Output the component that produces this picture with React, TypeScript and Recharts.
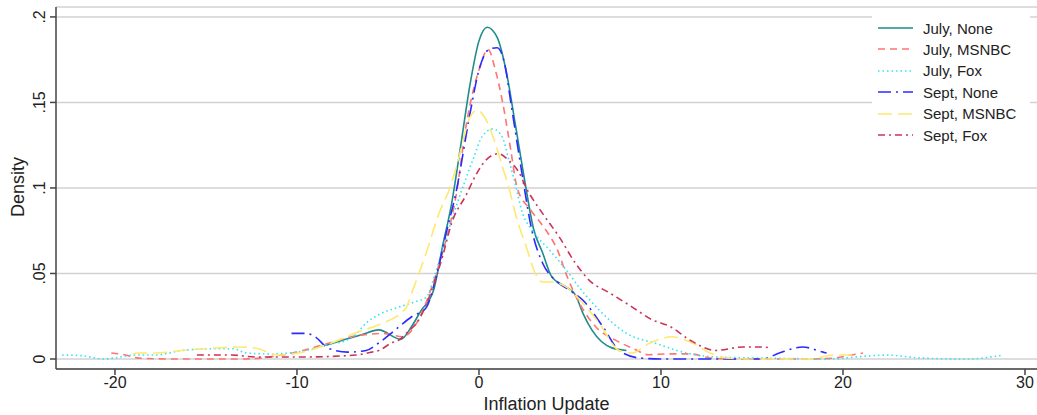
import React from "react";
import { LineChart, Line, XAxis, YAxis, CartesianGrid, Label } from "recharts";

// x ticks / y ticks
const xTicks = [-20, -10, 0, 10, 20, 30];
const yTicks = [0, 0.05, 0.1, 0.15, 0.2];
const yTickLabels = ["0", ".05", ".1", ".15", ".2"];

// kernel density curves
const julyNoneX = [-8.4, -7.5, -6.5, -5.5, -4.3, -3.7, -3.2, -2.5, -2, -1.5, -1, -0.5, 0, 0.45, 1, 1.5, 2, 2.5, 3, 3.5, 4, 4.8, 5.3, 5.7, 6.2, 7.3, 8.1];
const julyNoneY = [0.008, 0.011, 0.014, 0.017, 0.0115, 0.019, 0.028, 0.04, 0.066, 0.091, 0.125, 0.16, 0.186, 0.194, 0.188, 0.168, 0.137, 0.105, 0.076, 0.062, 0.048, 0.042, 0.0375, 0.027, 0.017, 0.0065, 0.005];

const julyMsnbcX = [-20.2, -19.5, -18.7, -17, -15, -13, -12, -11, -10, -9, -8, -7, -6, -5.3, -4.2, -3.3, -2.6, -1.8, -1.3, -0.65, 0, 0.5, 0.9, 1.3, 1.75, 2.1, 2.85, 3.7, 4.3, 4.85, 5.5, 6.4, 7.5, 8.5, 9.3, 10.5, 11.6, 12.7, 14, 16, 18, 19.5, 20.3, 21.1];
const julyMsnbcY = [0.0035, 0.0025, 0.0005, 0, 0, 0, 0.0005, 0.002, 0.004, 0.007, 0.01, 0.013, 0.0145, 0.015, 0.013, 0.0235, 0.042, 0.07, 0.093, 0.14, 0.169, 0.181, 0.169, 0.15, 0.122, 0.1, 0.087, 0.075, 0.064, 0.048, 0.033, 0.019, 0.011, 0.006, 0.0025, 0.003, 0.003, 0.0006, 0, 0, 0, 0.0005, 0.002, 0.0035];

const julyFoxX = [-22.9, -21.9, -20.6, -19.8, -18.9, -17.8, -16.3, -14.5, -13.5, -12.8, -11.4, -9.5, -8.1, -7.5, -6.8, -6.2, -5.5, -4.5, -3.5, -2.9, -2.4, -1.8, -1.0, -0.7, -0.28, 0.17, 0.77, 1.27, 1.65, 1.93, 2.4, 2.9, 3.85, 4.8, 5.5, 6.6, 8.1, 9.75, 11.2, 13, 15, 17, 19.5, 20.5, 22.4, 24.2, 26.8, 28.8];
const julyFoxY = [0.0023, 0.002, 0, 0.001, 0.0023, 0.0023, 0.005, 0.006, 0.006, 0.0035, 0.003, 0.005, 0.009, 0.01, 0.014, 0.021, 0.026, 0.03, 0.0335, 0.036, 0.05, 0.071, 0.097, 0.106, 0.118, 0.13, 0.1345, 0.13, 0.116, 0.105, 0.085, 0.0755, 0.064, 0.052, 0.042, 0.0287, 0.015, 0.009, 0.004, 0.0012, 0.0006, 0.0003, 0, 0.001, 0.0023, 0.0006, 0, 0.0023];

const septNoneX = [-10.3, -9.5, -9.0, -8.3, -7.2, -6.2, -5.5, -4.6, -3.7, -2.9, -2.4, -1.8, -1.27, -0.45, 0, 0.55, 1.0, 1.4, 1.75, 2.1, 2.4, 2.9, 3.5, 4.2, 5.0, 5.7, 6.8, 7.7, 8.8, 10, 12, 14, 15.6, 16.5, 17.8, 18.9, 19.1];
const septNoneY = [0.015, 0.015, 0.013, 0.0064, 0.004, 0.005, 0.0094, 0.017, 0.0247, 0.03, 0.046, 0.0737, 0.097, 0.146, 0.169, 0.181, 0.182, 0.173, 0.15, 0.126, 0.106, 0.0755, 0.056, 0.046, 0.04, 0.0345, 0.019, 0.005, 0.0006, 0, 0, 0, 0, 0.0035, 0.007, 0.004, 0.0035];

const septMsnbcX = [-19, -18.7, -17.8, -16, -14.5, -13.2, -12.3, -11, -9.9, -8.1, -6.6, -5.5, -4.0, -3.7, -2.9, -2.2, -1.6, -1.0, -0.55, -0.1, 0.38, 0.9, 1.3, 1.65, 2.0, 2.6, 3.1, 3.5, 4.0, 4.8, 5.7, 6.6, 7.7, 8.4, 9.4, 10.6, 11.6, 12.7, 13.6, 15, 17, 18.2, 19.5, 20.5];
const septMsnbcY = [0.003, 0.0035, 0.0035, 0.0053, 0.0064, 0.007, 0.0064, 0.0023, 0.0035, 0.0094, 0.016, 0.02, 0.03, 0.0385, 0.062, 0.085, 0.1, 0.122, 0.14, 0.1455, 0.14, 0.126, 0.112, 0.1, 0.085, 0.0655, 0.05, 0.045, 0.045, 0.042, 0.0327, 0.021, 0.005, 0.0035, 0.0094, 0.013, 0.01, 0.0035, 0.0006, 0, 0, 0, 0.0023, 0.0023];

const septFoxX = [-15.5, -13.6, -12.3, -9.5, -6.8, -5.9, -5.5, -4.8, -4.4, -4.0, -3.3, -2.6, -2.0, -1.5, -0.7, -0.2, 0.2, 1.05, 1.65, 2.2, 2.6, 3.5, 4.4, 5.3, 6.06, 7.2, 8.4, 9.5, 10.5, 11.6, 13.0, 14.5, 15.6, 16.0];
const septFoxY = [0.0023, 0.0023, 0.0012, 0.0012, 0.0023, 0.004, 0.005, 0.0094, 0.011, 0.015, 0.023, 0.04, 0.06, 0.0795, 0.096, 0.107, 0.114, 0.12, 0.116, 0.109, 0.1, 0.085, 0.0715, 0.056, 0.046, 0.0385, 0.0305, 0.023, 0.019, 0.011, 0.005, 0.007, 0.007, 0.0065];

const FONT = "'Liberation Sans', Arial, Helvetica, sans-serif";

const toPoints = (xs: number[], ys: number[]) => xs.map((x, i) => ({ x, y: ys[i] }));

const SERIES = [
  { name: "July, None", data: toPoints(julyNoneX, julyNoneY), color: "#1f8b8b", dash: undefined },
  { name: "July, MSNBC", data: toPoints(julyMsnbcX, julyMsnbcY), color: "#ff7373", dash: "7 5" },
  { name: "July, Fox", data: toPoints(julyFoxX, julyFoxY), color: "#2fe3f2", dash: "1.5 3" },
  { name: "Sept, None", data: toPoints(septNoneX, septNoneY), color: "#2b2bff", dash: "13 5 2 5" },
  { name: "Sept, MSNBC", data: toPoints(septMsnbcX, septMsnbcY), color: "#ffe870", dash: "14 6" },
  { name: "Sept, Fox", data: toPoints(septFoxX, septFoxY), color: "#cc3358", dash: "7 4 2 4" },
];

const YTick = ({ x, y, payload }: any) => {
  const idx = yTicks.indexOf(payload.value);
  const tx = x - 3;
  return (
    <text
      x={tx}
      y={y}
      transform={`rotate(-90 ${tx} ${y})`}
      textAnchor="middle"
      fontSize={16}
      fontFamily={FONT}
      fill="#222"
    >
      {idx >= 0 ? yTickLabels[idx] : payload.value}
    </text>
  );
};

export default function App() {
  return (
    <div style={{ position: "absolute", left: 0, top: 0, width: 1037, height: 415, background: "#fff" }}>
      <LineChart
        width={1037}
        height={415}
        margin={{ top: 7, right: 0, left: 0, bottom: 0 }}
        style={{ fontFamily: FONT }}
      >
        <CartesianGrid horizontal vertical={false} stroke="#d2d2d2" strokeWidth={1.5} />
        <XAxis
          dataKey="x"
          type="number"
          domain={[-23.24, 30.66]}
          ticks={xTicks}
          allowDataOverflow
          height={46}
          tickSize={6}
          stroke="#444"
          strokeWidth={1.5}
          tick={{ fill: "#222", fontSize: 16, fontFamily: FONT }}
        >
          <Label value="Inflation Update" position="insideBottom" offset={5} fill="#222" fontSize={18} fontFamily={FONT} />
        </XAxis>
        <YAxis
          type="number"
          domain={[-0.00585, 0.2058]}
          ticks={yTicks}
          allowDataOverflow
          width={56}
          tickSize={6}
          stroke="#444"
          strokeWidth={1.5}
          tick={<YTick />}
        >
          <Label
            content={() => (
              <text
                x={18}
                y={187}
                transform="rotate(-90 18 187)"
                textAnchor="middle"
                dominantBaseline="central"
                fontSize={18}
                fontFamily={FONT}
                fill="#222"
              >
                Density
              </text>
            )}
          />
        </YAxis>
        {SERIES.map((s) => (
          <Line
            key={s.name}
            data={s.data}
            dataKey="y"
            name={s.name}
            type="monotone"
            stroke={s.color}
            strokeWidth={1.6}
            strokeDasharray={s.dash}
            dot={false}
            activeDot={false}
            isAnimationActive={false}
          />
        ))}
      </LineChart>

      {/* legend box sits over the grid, top right */}
      <div
        style={{
          position: "absolute",
          left: 872,
          top: 10,
          width: 158,
          height: 140,
          background: "#fff",
          fontFamily: FONT,
          fontSize: 15,
          color: "#222",
        }}
      >
        {SERIES.map((s, i) => (
          <div
            key={s.name}
            style={{ position: "absolute", left: 0, top: 18 + i * 21.4 - 10, height: 20, display: "flex", alignItems: "center" }}
          >
            <svg width={48} height={20}>
              <line x1={6} y1={10} x2={41} y2={10} stroke={s.color} strokeWidth={1.6} strokeDasharray={s.dash} />
            </svg>
            <span style={{ marginLeft: 3, whiteSpace: "nowrap" }}>{s.name}</span>
          </div>
        ))}
      </div>
    </div>
  );
}
